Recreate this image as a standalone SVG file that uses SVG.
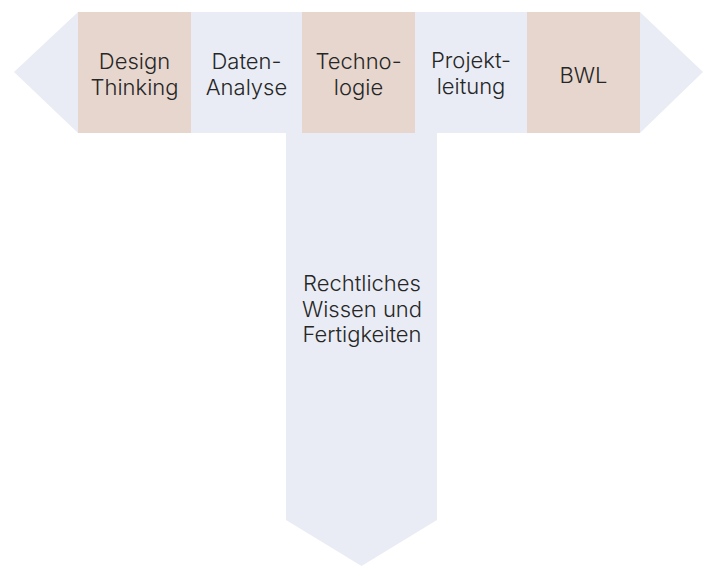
<svg xmlns="http://www.w3.org/2000/svg" width="703" height="566" viewBox="0 0 703 566">
<style>
.light{fill:#E9ECF4}
.beige{fill:#E7D6CE}
text{font-family:Inter,"Liberation Sans",sans-serif;font-size:22px;font-weight:300;fill:#262626;text-anchor:middle}
</style>
<rect width="703" height="566" fill="#ffffff"/>
<g id="band">
<polygon class="light" points="78,12 640,12 703,72 640,133 78,133 14,72"/>
<polygon class="light" points="286,133 437,133 437,520 361.5,566 286,520"/>
</g>
<g id="design">
<rect class="beige" x="78" y="12" width="113" height="121"/>
<text x="134.5" y="68.5">Design</text>
<text x="134.5" y="94.5">Thinking</text>
</g>
<g id="daten">
<text x="246.5" y="68.5">Daten-</text>
<text x="246.5" y="94.5">Analyse</text>
</g>
<g id="technologie">
<rect class="beige" x="302" y="12" width="113" height="121"/>
<text x="358.5" y="68.5">Techno-</text>
<text x="358.5" y="94.5">logie</text>
</g>
<g id="projekt">
<text x="471" y="68">Projekt-</text>
<text x="471" y="94">leitung</text>
</g>
<g id="bwl">
<rect class="beige" x="527" y="12" width="113" height="121"/>
<text x="583.5" y="83">BWL</text>
</g>
<g id="recht">
<text x="362" y="291">Rechtliches</text>
<text x="362" y="316.5">Wissen und</text>
<text x="362" y="342">Fertigkeiten</text>
</g>
<g id="connectors"></g>
</svg>
